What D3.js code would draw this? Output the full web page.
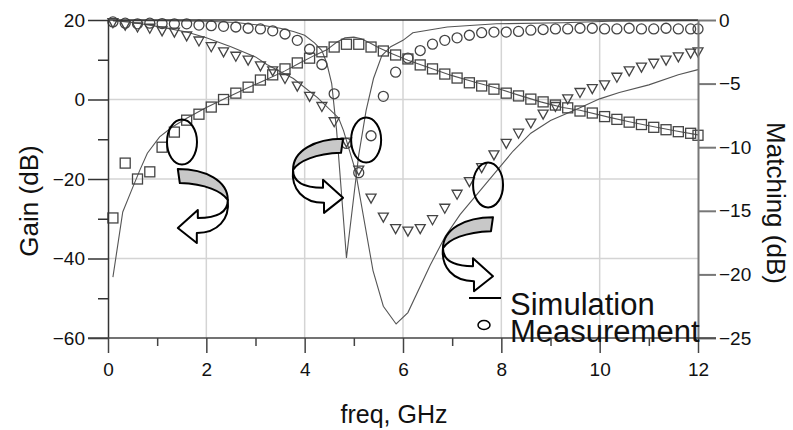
<!DOCTYPE html>
<html>
<head>
<meta charset="utf-8">
<script src="https://cdn.jsdelivr.net/npm/d3@7/dist/d3.min.js"></script>
<style>
  html, body { margin: 0; padding: 0; background: #fff; }
  svg text { font-family: "Liberation Sans", Arial, sans-serif; fill: #111; }
</style>
</head>
<body>
<svg id="chart" width="793" height="430"></svg>
<script>
// Measured sweep frequencies (GHz)
const measFreq = [0.1, 0.35, 0.6, 0.85, 1.1, 1.35, 1.6, 1.85, 2.1, 2.35, 2.6, 2.85, 3.1, 3.35, 3.6, 3.85,
  4.1, 4.35, 4.6, 4.85, 5.1, 5.35, 5.6, 5.85, 6.1, 6.35, 6.6, 6.85, 7.1, 7.35, 7.6, 7.85,
  8.1, 8.35, 8.6, 8.85, 9.1, 9.35, 9.6, 9.85, 10.1, 10.35, 10.6, 10.85, 11.1, 11.35, 11.6, 11.85, 12.0];

// Measured gain (dB), left axis
const gainMeas = [-29.8, -16.0, -20.0, -18.2, -12.0, -8.2, -5.2, -3.7, -1.9, 0.0, 1.6, 3.1, 4.9, 6.2, 7.7, 9.2,
  10.4, 12.0, 13.2, 13.9, 13.9, 13.2, 12.2, 11.2, 10.2, 8.7, 7.7, 6.4, 5.4, 4.2, 3.4, 2.6,
  1.6, 0.9, 0.1, -0.6, -1.4, -2.1, -2.9, -3.4, -4.3, -5.0, -5.7, -6.3, -7.0, -7.6, -8.1, -8.5, -9.0];

// Measured input matching (dB), right axis
const s11Meas = [-0.15, -0.25, -0.3, -0.25, -0.28, -0.3, -0.3, -0.4, -0.45, -0.5, -0.55, -0.65, -0.7, -0.85, -1.1, -1.6,
  -2.3, -3.5, -5.8, -9.7, -12.0, -9.1, -6.0, -4.1, -3.0, -2.4, -1.9, -1.6, -1.4, -1.2, -1.0, -0.95,
  -0.95, -0.9, -0.8, -0.75, -0.7, -0.7, -0.65, -0.65, -0.7, -0.7, -0.65, -0.7, -0.7, -0.65, -0.7, -0.7, -0.7];

// Measured output matching (dB), right axis
const s22Meas = [-0.2, -0.4, -0.55, -0.65, -0.85, -0.95, -1.25, -1.65, -2.1, -2.5, -2.85, -3.15, -3.6, -4.0, -4.6, -5.2,
  -6.0, -6.8, -8.0, -9.6, -11.8, -14.0, -15.5, -16.4, -16.6, -16.4, -15.7, -14.8, -13.7, -12.7, -11.6, -10.6,
  -9.7, -8.9, -8.1, -7.4, -6.8, -6.2, -5.7, -5.4, -5.1, -4.5, -4.0, -3.7, -3.4, -3.15, -2.9, -2.6, -2.5];

// Simulated gain (dB): frequency / value pairs
const gainSimFreq = [0.1, 0.3, 0.48, 0.65, 0.8, 1.05, 1.3, 1.6, 2.0, 2.4, 2.8, 3.2, 3.6, 3.9, 4.2, 4.45, 4.65, 4.82,
  5.0, 5.15, 5.33, 5.5, 5.74, 6.1, 6.55, 7.0, 7.45, 7.9, 8.35, 8.8, 9.25, 9.6, 10.2, 10.6, 11.0, 11.5, 12.0];
const gainSim = [-44.7, -28.3, -22.8, -17.7, -13.5, -9.4, -7.0, -4.7, -2.0, 0.4, 2.7, 4.9, 7.2, 9.2, 11.1, 12.5, 14.4, 15.5,
  15.7, 15.3, 14.2, 13.1, 11.7, 9.9, 7.9, 6.0, 4.4, 2.9, 1.1, -0.6, -2.0, -2.7, -4.5, -5.6, -6.6, -7.8, -8.9];

// Simulated input matching (dB)
const s11SimFreq = [0.1, 1.0, 2.0, 2.6, 3.2, 3.5, 3.77, 4.0, 4.2, 4.35, 4.45, 4.55, 4.65, 4.85, 5.1, 5.25, 5.4, 5.57,
  5.75, 6.0, 6.2, 6.9, 7.9, 9.25, 10.2, 12.0];
const s11Sim = [-0.05, -0.05, -0.1, -0.2, -0.45, -0.65, -0.9, -1.2, -1.8, -2.4, -3.4, -5.0, -8.7, -18.7, -10.6, -7.1, -4.6, -2.8,
  -2.1, -1.6, -1.0, -0.55, -0.3, -0.22, -0.1, -0.05];

// Simulated output matching (dB)
const s22SimFreq = [0.1, 0.5, 1.0, 1.6, 2.0, 2.5, 3.0, 3.23, 3.77, 4.26, 4.69, 4.79, 5.03, 5.39, 5.6, 5.86, 6.1, 6.55,
  6.86, 7.16, 7.7, 8.24, 8.6, 9.0, 9.6, 10.0, 10.4, 11.0, 11.6, 12.0];
const s22Sim = [-0.05, -0.2, -0.5, -0.95, -1.4, -2.1, -2.9, -3.5, -4.6, -6.1, -7.7, -8.7, -11.8, -19.7, -22.5, -23.9, -23.0, -19.3,
  -17.0, -15.3, -12.8, -10.3, -8.9, -7.9, -6.9, -6.2, -5.7, -5.1, -4.3, -3.9];

// Axis ticks
const freqTicks = [0, 2, 4, 6, 8, 10, 12];
const freqMinor = [1, 3, 5, 7, 9, 11];
const gainTicks = [20, 0, -20, -40, -60];
const gainMinor = [10, -10, -30, -50];
const matchTicks = [0, -5, -10, -15, -20, -25];
const gridFreq = [2, 4, 6, 8, 10];
const gridGain = [0, -20, -40];

// Callout ellipses (centre in freq / gain units) and curved arrows (start corner, facing)
const rings = [ {f: 1.505, g: -10.7}, {f: 5.25, g: -10.2}, {f: 7.73, g: -21.5} ];
const arrows = [ {f: 1.42, g: -17.5, dir: 1}, {f: 4.78, g: -9.9, dir: -1}, {f: 7.83, g: -29.6, dir: -1} ];

const legendItems = ["Simulation", "Measurement"];

const svg = d3.select("#chart");
const x = d3.scaleLinear().domain([0, 12]).range([108, 698]);
const yL = d3.scaleLinear().domain([-60, 20]).range([338, 20]);
const yR = d3.scaleLinear().domain([-25, 0]).range([338, 20]);

// grid
const grid = svg.append("g").attr("stroke", "#d4d4d4").attr("stroke-width", 1.5);
grid.selectAll("line.gx").data(gridFreq).join("line")
  .attr("x1", d => x(d)).attr("x2", d => x(d)).attr("y1", yL(20)).attr("y2", yL(-60));
grid.selectAll("line.gy").data(gridGain).join("line")
  .attr("x1", x(0)).attr("x2", x(12)).attr("y1", d => yL(d)).attr("y2", d => yL(d));

// simulated curves
const lineG = svg.append("g").attr("fill", "none").attr("stroke", "#555").attr("stroke-width", 1.1);
const pairs = (fs, vs) => fs.map((f, i) => [f, vs[i]]);
lineG.append("path").attr("d", d3.line().x(d => x(d[0])).y(d => yL(d[1]))(pairs(gainSimFreq, gainSim)));
lineG.append("path").attr("d", d3.line().x(d => x(d[0])).y(d => yR(d[1]))(pairs(s11SimFreq, s11Sim)));
lineG.append("path").attr("d", d3.line().x(d => x(d[0])).y(d => yR(d[1]))(pairs(s22SimFreq, s22Sim)));

// measured markers
const mk = svg.append("g").attr("fill", "none").attr("stroke", "#444").attr("stroke-width", 1.3);
mk.selectAll("rect").data(pairs(measFreq, gainMeas)).join("rect")
  .attr("x", d => x(d[0]) - 5).attr("y", d => yL(d[1]) - 5).attr("width", 10).attr("height", 10);
mk.selectAll("circle").data(pairs(measFreq, s11Meas)).join("circle")
  .attr("cx", d => x(d[0])).attr("cy", d => yR(d[1])).attr("r", 5);
mk.selectAll("path.tri").data(pairs(measFreq, s22Meas)).join("path").attr("class", "tri")
  .attr("d", d => { const cx = x(d[0]), cy = yR(d[1]);
    return `M${cx - 5},${cy - 4}L${cx + 5},${cy - 4}L${cx},${cy + 5}Z`; });

// frame and axes
const frame = svg.append("g");
frame.append("line").attr("x1", x(0)).attr("x2", x(12)).attr("y1", yL(20)).attr("y2", yL(20))
  .attr("stroke", "#333").attr("stroke-width", 1.5);

function styleAxis(g, color, w) {
  g.select(".domain").attr("stroke", color).attr("stroke-width", w);
  g.selectAll(".tick line").attr("stroke", color).attr("stroke-width", w);
  g.selectAll(".tick text").attr("font-size", 19).attr("fill", "#111")
    .attr("font-family", "'Liberation Sans', Arial, sans-serif");
}

const axL = frame.append("g").attr("transform", `translate(${x(0)},0)`)
  .call(d3.axisLeft(yL).tickValues(gainTicks).tickSize(20).tickPadding(3).tickSizeOuter(0));
styleAxis(axL, "#333", 1.5);
const axLm = frame.append("g").attr("transform", `translate(${x(0)},0)`)
  .call(d3.axisLeft(yL).tickValues(gainMinor).tickSize(10).tickFormat(""));
styleAxis(axLm, "#333", 1.5); axLm.select(".domain").remove();

const axR = frame.append("g").attr("transform", `translate(${x(12)},0)`)
  .call(d3.axisRight(yR).tickValues(matchTicks).tickSize(18).tickPadding(3).tickSizeOuter(0));
styleAxis(axR, "#777", 2);

const axB = frame.append("g").attr("transform", `translate(0,${yL(-60)})`)
  .call(d3.axisBottom(x).tickValues(freqTicks).tickSize(15).tickPadding(10).tickSizeOuter(0));
styleAxis(axB, "#444", 1.5);
axB.select(".domain").attr("d", `M${x(0) - 20},0H${x(12) + 18}`);
const axBm = frame.append("g").attr("transform", `translate(0,${yL(-60)})`)
  .call(d3.axisBottom(x).tickValues(freqMinor).tickSize(8).tickFormat(""));
styleAxis(axBm, "#444", 1.5); axBm.select(".domain").remove();

// axis titles
svg.append("text").attr("transform", `translate(29,201) rotate(-90)`).attr("text-anchor", "middle")
  .attr("dominant-baseline", "central").attr("font-size", 26).text("Gain (dB)");
svg.append("text").attr("transform", `translate(776,203) rotate(90)`).attr("text-anchor", "middle")
  .attr("dominant-baseline", "central").attr("font-size", 26).text("Matching (dB)");
svg.append("text").attr("x", 394).attr("y", 423).attr("text-anchor", "middle")
  .attr("font-size", 25).text("freq, GHz");

// callout rings
svg.append("g").selectAll("ellipse").data(rings).join("ellipse")
  .attr("cx", d => x(d.f)).attr("cy", d => yL(d.g)).attr("rx", 15).attr("ry", 22.5)
  .attr("fill", "none").attr("stroke", "#000").attr("stroke-width", 2);

// curved U-turn arrows: shaded back face, then white front face with head
const backFace = "M0,0 C28,0 50,12 50,31 C44,22 28,15 2,14 Z";
const frontFace = "M50,31 C50,44 38,49 20,49 L20,41 L0,59 L19,74 L19,64 C40,64 52,50 50,31 Z";
const ag = svg.append("g").selectAll("g").data(arrows).join("g")
  .attr("transform", d => `translate(${x(d.f)},${yL(d.g)}) scale(${d.dir},1)`)
  .attr("stroke", "#000").attr("stroke-width", 2).attr("stroke-linejoin", "round");
ag.append("path").attr("d", backFace).attr("fill", "#c8c8c8");
ag.append("path").attr("d", frontFace).attr("fill", "#fff");

// legend
const lg = svg.append("g");
lg.append("line").attr("x1", 469).attr("x2", 501).attr("y1", 298).attr("y2", 298)
  .attr("stroke", "#000").attr("stroke-width", 2);
lg.append("ellipse").attr("cx", 484).attr("cy", 325).attr("rx", 6).attr("ry", 4.5)
  .attr("fill", "none").attr("stroke", "#000").attr("stroke-width", 1.5);
lg.selectAll("text").data(legendItems).join("text")
  .attr("x", 510).attr("y", (d, i) => 315 + i * 27).attr("font-size", 31).text(d => d);
</script>
</body>
</html>
